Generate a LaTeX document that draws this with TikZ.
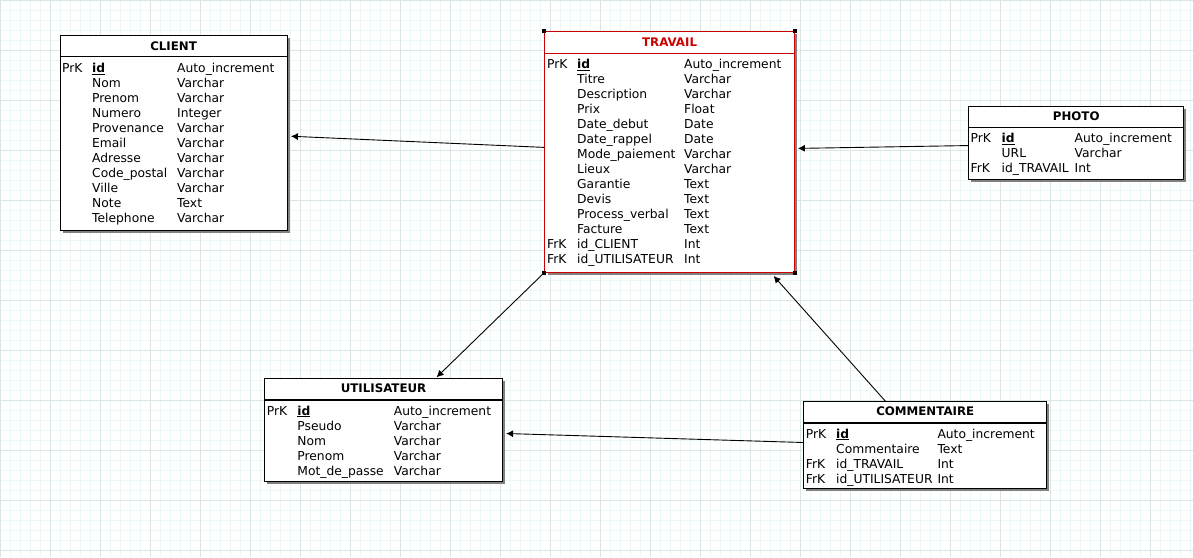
\documentclass[tikz,border=0pt]{standalone}
\usepackage{fontspec}
\setmainfont{DejaVu Sans}
\usetikzlibrary{arrows.meta}
\definecolor{gridminor}{RGB}{236,248,248}
\definecolor{gridmajor}{RGB}{218,230,230}
\definecolor{shadowgray}{RGB}{128,128,128}
\definecolor{selred}{RGB}{204,0,0}
\newcommand{\idkey}{\underline{\textbf{id}}}
\begin{document}
\begin{tikzpicture}[x=1pt,y=-1pt,
  tbl/.style={draw=black, line width=1.1pt, fill=white, inner sep=0pt, anchor=north west},
  tblsel/.style={tbl, draw=selred, line width=0.9pt},
  shad/.style={fill=shadowgray, draw=none},
  hdr/.style={font=\fontsize{11.8}{14}\selectfont\bfseries, inner sep=0pt},
  body/.style={font=\fontsize{12.3}{15}\selectfont, inner sep=0pt, anchor=base west},
  fk/.style={-{Latex[length=7pt,width=7pt]}, line width=0.9pt, black},
  handle/.style={fill=black, draw=none, minimum size=4pt, inner sep=0pt}]
\useasboundingbox (0,0) rectangle (1193,557);
\fill[white] (0,0) rectangle (1193,557);
% grid
\foreach \x in {0,10,...,1190} \draw[gridminor, line width=0.6pt] (\x,0) -- (\x,557);
\foreach \y in {0,10,...,550} \draw[gridminor, line width=0.6pt] (0,\y) -- (1193,\y);
\foreach \x in {0,50,...,1150} \draw[gridmajor, line width=0.7pt] (\x,0) -- (\x,557);
\foreach \y in {0,50,...,550} \draw[gridmajor, line width=0.7pt] (0,\y) -- (1193,\y);

% ---------- CLIENT ----------
\fill[shad] (62.5,38) rectangle (289.5,233);
\node[tbl, minimum width=227pt, minimum height=195pt] (client) at (59.5,35) {};
\draw[line width=1.1pt] (client.west |- 0,56.7) -- (client.east |- 0,56.7);
\node[hdr] (clienth) at (client.center |- 0,46) {CLIENT};
\node[body] (clientb) at (62,72.5) {\begin{tabular}[t]{@{}p{30pt}@{}p{85pt}@{}l@{}}
PrK & \idkey & Auto\_increment\\
 & Nom & Varchar\\
 & Prenom & Varchar\\
 & Numero & Integer\\
 & Provenance & Varchar\\
 & Email & Varchar\\
 & Adresse & Varchar\\
 & Code\_postal & Varchar\\
 & Ville & Varchar\\
 & Note & Text\\
 & Telephone & Varchar
\end{tabular}};

% ---------- TRAVAIL ----------
\fill[shad] (547.5,34) rectangle (797,274.7);
\node[tblsel, minimum width=249.7pt, minimum height=240.7pt] (travail) at (544.3,31) {};
\draw[selred, line width=0.9pt] (travail.west |- 0,53.3) -- (travail.east |- 0,53.3);
\node[hdr, text=selred] (travailh) at (travail.center |- 0,42) {TRAVAIL};
\node[body] (travailb) at (547,68.3) {\begin{tabular}[t]{@{}p{30pt}@{}p{107pt}@{}l@{}}
PrK & \idkey & Auto\_increment\\
 & Titre & Varchar\\
 & Description & Varchar\\
 & Prix & Float\\
 & Date\_debut & Date\\
 & Date\_rappel & Date\\
 & Mode\_paiement & Varchar\\
 & Lieux & Varchar\\
 & Garantie & Text\\
 & Devis & Text\\
 & Process\_verbal & Text\\
 & Facture & Text\\
FrK & id\_CLIENT & Int\\
FrK & id\_UTILISATEUR & Int
\end{tabular}};
\node[handle] (hnw) at (travail.north west) {};
\node[handle] (hne) at (travail.north east) {};
\node[handle] (hsw) at (travail.south west) {};
\node[handle] (hse) at (travail.south east) {};

% ---------- PHOTO ----------
\fill[shad] (971.3,108.7) rectangle (1186,182.3);
\node[tbl, minimum width=214.7pt, minimum height=73.6pt] (photo) at (968.3,105.7) {};
\draw[line width=1.1pt] (photo.west |- 0,127.3) -- (photo.east |- 0,127.3);
\node[hdr] (photoh) at (photo.center |- 0,116) {PHOTO};
\node[body] (photob) at (970.5,142.3) {\begin{tabular}[t]{@{}p{31pt}@{}p{73pt}@{}l@{}}
PrK & \idkey & Auto\_increment\\
 & URL & Varchar\\
FrK & id\_TRAVAIL & Int
\end{tabular}};

% ---------- UTILISATEUR ----------
\fill[shad] (267,381.3) rectangle (505,484);
\node[tbl, minimum width=238pt, minimum height=102.7pt] (utilisateur) at (264,378.3) {};
\draw[line width=1.1pt] (utilisateur.west |- 0,400) -- (utilisateur.east |- 0,400);
\node[hdr] (utilisateurh) at (utilisateur.center |- 0,388.5) {UTILISATEUR};
\node[body] (utilisateurb) at (266.7,415) {\begin{tabular}[t]{@{}p{30.5pt}@{}p{96.5pt}@{}l@{}}
PrK & \idkey & Auto\_increment\\
 & Pseudo & Varchar\\
 & Nom & Varchar\\
 & Prenom & Varchar\\
 & Mot\_de\_passe & Varchar
\end{tabular}};

% ---------- COMMENTAIRE ----------
\fill[shad] (806.3,404.3) rectangle (1049,491);
\node[tbl, minimum width=242.7pt, minimum height=86.7pt] (commentaire) at (803.3,401.3) {};
\draw[line width=1.1pt] (commentaire.west |- 0,423) -- (commentaire.east |- 0,423);
\node[hdr] (commentaireh) at (commentaire.center |- 0,411.5) {COMMENTAIRE};
\node[body] (commentaireb) at (805.7,438) {\begin{tabular}[t]{@{}p{30.3pt}@{}p{101.3pt}@{}l@{}}
PrK & \idkey & Auto\_increment\\
 & Commentaire & Text\\
FrK & id\_TRAVAIL & Int\\
FrK & id\_UTILISATEUR & Int
\end{tabular}};

% ---------- connectors ----------
\draw[fk] ([yshift=4.4pt]travail.west) -- ([xshift=3.3pt,yshift=-3.2pt]client.east);
\draw[fk] ([yshift=-2.5pt]photo.west) -- ([xshift=3pt,yshift=3.4pt]travail.east);
\draw[fk] (travail.south west) -- ([xshift=53pt,yshift=1pt]utilisateur.north);
\draw[fk] ([xshift=-39.7pt]commentaire.north) -- ([xshift=104pt,yshift=-3.3pt]travail.south);
\draw[fk] ([yshift=2.7pt]commentaire.west) -- ([xshift=3pt,yshift=-3.3pt]utilisateur.east);
\end{tikzpicture}
\end{document}
